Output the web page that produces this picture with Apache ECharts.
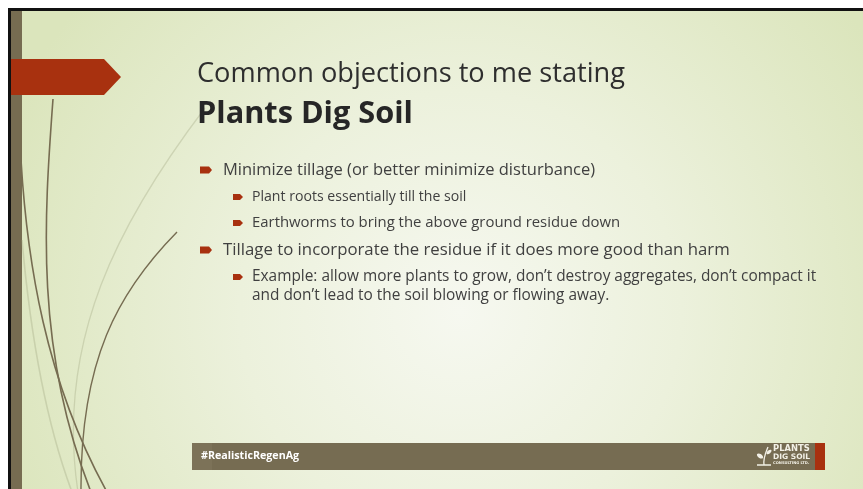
<!DOCTYPE html>
<html>
<head>
<meta charset="utf-8">
<script src="https://cdn.jsdelivr.net/npm/echarts@6/dist/echarts.min.js"></script>
<style>
  html, body { margin: 0; padding: 0; background: #ffffff; }
  #slide { width: 863px; height: 489px; }
</style>
</head>
<body>
<div id="slide"></div>
<script>
// slide text
var titleLines = ['Common objections to me stating', 'Plants Dig Soil'];
var bulletLevels = [1, 2, 2, 1, 2];
var bulletTexts = [
    ['Minimize tillage (or better minimize disturbance)'],
    ['Plant roots essentially till the soil'],
    ['Earthworms to bring the above ground residue down'],
    ['Tillage to incorporate the residue if it does more good than harm'],
    ['Example: allow more plants to grow, don\u2019t destroy aggregates, don\u2019t compact it',
     'and don\u2019t lead to the soil blowing or flowing away.']
];
var footerTag = '#RealisticRegenAg';
var logoLines = ['PLANTS', 'DIG SOIL', 'CONSULTING LTD.'];

// layout (pixels)
var bulletY = [170, 197, 223, 250, 277];
var lineGap = 18.5;
var textFont = 'Open Sans';

var dark = '#766c51';
var red = '#a8310f';
var ink = '#404040';

var measure = document.createElement('canvas').getContext('2d');
function fitSize(text, weight, family, width) {
    measure.font = weight + ' 100px "' + family + '"';
    return 100 * width / measure.measureText(text).width;
}

var dom = document.getElementById('slide');
var myChart = echarts.init(dom);

var g = [];

// background of the slide
g.push({
    type: 'rect',
    shape: { x: 8, y: 8, width: 870, height: 490 },
    style: {
        fill: {
            type: 'radial', x: 0.52, y: 0.62, r: 1.0,
            colorStops: [
                { offset: 0, color: '#f6f8f0' },
                { offset: 0.45, color: '#ecf1dc' },
                { offset: 1, color: '#dbe5bc' }
            ]
        }
    }
});
g.push({ type: 'rect', shape: { x: 8, y: 8, width: 860, height: 3 }, style: { fill: '#111' } });
g.push({ type: 'rect', shape: { x: 8, y: 8, width: 3, height: 485 }, style: { fill: '#111' } });
g.push({ type: 'rect', shape: { x: 11, y: 11, width: 11, height: 480 }, style: { fill: dark } });

// decorative swooshes
var faint = 'rgba(160,165,130,0.35)';
var curves = [
    { p: [205, 108, 120, 220, 55, 340, 78, 492], c: faint, w: 1.3 },
    { p: [22, 240, 30, 330, 45, 420, 72, 492], c: faint, w: 1.6 },
    { p: [21, 160, 27, 260, 45, 380, 107, 492], c: dark, w: 1.6 },
    { p: [53, 99, 44, 220, 35, 350, 91, 492], c: dark, w: 1.6 },
    { p: [177, 232, 118, 292, 80, 360, 81, 492], c: dark, w: 1.4 }
];
curves.forEach(function (cv) {
    g.push({
        type: 'bezierCurve',
        shape: {
            x1: cv.p[0], y1: cv.p[1], cpx1: cv.p[2], cpy1: cv.p[3],
            cpx2: cv.p[4], cpy2: cv.p[5], x2: cv.p[6], y2: cv.p[7]
        },
        style: { stroke: cv.c, lineWidth: cv.w, fill: null }
    });
});

// red tab
g.push({
    type: 'polygon',
    shape: { points: [[11, 59], [104, 59], [121, 77], [104, 95], [11, 95]] },
    style: { fill: red }
});

// title
g.push({
    type: 'text', x: 197, y: 74,
    style: {
        text: titleLines[0], fill: '#2e2e2e',
        font: '400 ' + fitSize(titleLines[0], 400, textFont, 428).toFixed(1) + 'px "' + textFont + '"',
        verticalAlign: 'middle'
    }
});
g.push({
    type: 'text', x: 197, y: 114,
    style: {
        text: titleLines[1], fill: '#262626',
        font: '700 ' + fitSize(titleLines[1], 700, textFont, 216).toFixed(1) + 'px "' + textFont + '"',
        verticalAlign: 'middle'
    }
});

// bullets
var widths = [373, 215, 368, 508, 564];
bulletTexts.forEach(function (lines, i) {
    var lvl = bulletLevels[i];
    var bx = lvl === 1 ? 200 : 233;
    var bw = lvl === 1 ? 12 : 10;
    var bh = lvl === 1 ? 7 : 6;
    var tx = lvl === 1 ? 223 : 252;
    var y = bulletY[i];
    g.push({
        type: 'polygon',
        shape: {
            points: [[bx, y - bh / 2], [bx + bw - 3, y - bh / 2], [bx + bw, y],
                     [bx + bw - 3, y + bh / 2], [bx, y + bh / 2]]
        },
        style: { fill: red }
    });
    var size = fitSize(lines[0], 400, textFont, widths[i]);
    lines.forEach(function (t, k) {
        g.push({
            type: 'text', x: tx, y: y + k * lineGap,
            style: {
                text: t, fill: ink,
                font: '400 ' + size.toFixed(1) + 'px "' + textFont + '"',
                verticalAlign: 'middle'
            }
        });
    });
});

// footer
g.push({ type: 'rect', shape: { x: 192, y: 443, width: 623, height: 27 }, style: { fill: '#766c52' } });
g.push({ type: 'rect', shape: { x: 192, y: 443, width: 20, height: 27 }, style: { fill: '#7c7258' } });
g.push({ type: 'rect', shape: { x: 815, y: 443, width: 10, height: 27 }, style: { fill: red } });
g.push({
    type: 'text', x: 201, y: 456,
    style: {
        text: footerTag, fill: '#ffffff',
        font: '700 ' + fitSize(footerTag, 700, textFont, 98).toFixed(1) + 'px "' + textFont + '"',
        verticalAlign: 'middle'
    }
});

// logo
var logoColor = '#f2f0e6';
g.push({
    type: 'text', x: 773, y: 449,
    style: { text: logoLines[0], fill: logoColor, font: '700 ' + fitSize(logoLines[0], 700, 'DejaVu Sans', 37).toFixed(1) + 'px "DejaVu Sans"', verticalAlign: 'middle' }
});
g.push({
    type: 'text', x: 773, y: 457,
    style: { text: logoLines[1], fill: logoColor, font: '700 ' + fitSize(logoLines[1], 700, 'DejaVu Sans', 37).toFixed(1) + 'px "DejaVu Sans"', verticalAlign: 'middle' }
});
g.push({
    type: 'text', x: 773, y: 463.5,
    style: { text: logoLines[2], fill: logoColor, font: '700 ' + fitSize(logoLines[2], 700, 'DejaVu Sans', 36).toFixed(1) + 'px "DejaVu Sans"', verticalAlign: 'middle' }
});
// sprout icon
g.push({ type: 'line', shape: { x1: 757, y1: 465, x2: 771, y2: 465 }, style: { stroke: logoColor, lineWidth: 1.5 } });
g.push({ type: 'bezierCurve', shape: { x1: 764, y1: 465, cpx1: 763, cpy1: 458, cpx2: 766, cpy2: 452, x2: 768, y2: 447 }, style: { stroke: logoColor, lineWidth: 1.3, fill: null } });
g.push({ type: 'ellipse', shape: { cx: 760, cy: 456, rx: 3.5, ry: 2 }, rotation: -0.6, originX: 760, originY: 456, style: { fill: logoColor } });
g.push({ type: 'ellipse', shape: { cx: 769, cy: 452, rx: 3, ry: 1.6 }, rotation: 0.7, originX: 769, originY: 452, style: { fill: logoColor } });

var option = {
    backgroundColor: '#ffffff',
    animation: false,
    graphic: { elements: g }
};
myChart.setOption(option, true);
</script>
</body>
</html>
